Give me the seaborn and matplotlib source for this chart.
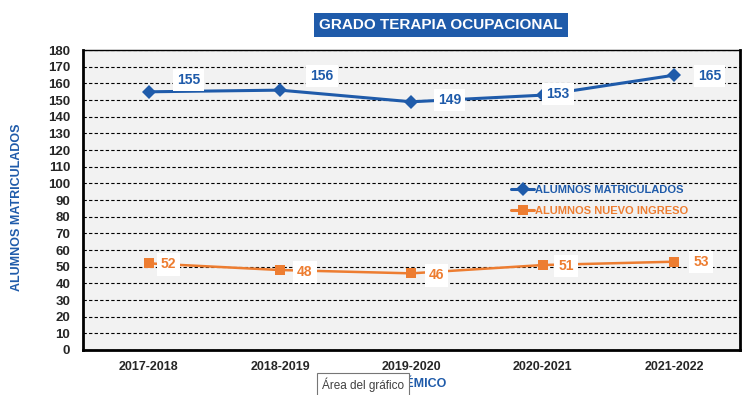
import numpy as np
import pandas as pd
import matplotlib
matplotlib.use('Agg')
import matplotlib.pyplot as plt
import seaborn as sns

# data
cursos = ['2017-2018', '2018-2019', '2019-2020', '2020-2021', '2021-2022']
matriculados = [155, 156, 149, 153, 165]
nuevo_ingreso = [52, 48, 46, 51, 53]

AZUL = '#1F5BAA'
NARANJA = '#ED7D31'

sns.set_style('white')
plt.rcParams['font.family'] = ['Liberation Sans', 'DejaVu Sans']

df = pd.DataFrame({'curso': cursos * 2,
                   'valor': matriculados + nuevo_ingreso,
                   'serie': ['ALUMNOS MATRICULADOS'] * 5 + ['ALUMNOS NUEVO INGRESO'] * 5})
df['x'] = list(range(5)) * 2

fig = plt.figure(figsize=(7.46, 3.95), dpi=100)
ax = fig.add_axes([0.111, 0.114, 0.881, 0.759])
ax.set_facecolor('#F2F2F2')

sns.lineplot(data=df, x='x', y='valor', hue='serie', style='serie',
             palette=[AZUL, NARANJA], markers=['D', 's'], dashes=False,
             linewidth=2.2, markersize=7, markeredgewidth=0, ax=ax)
ax.lines[1].set_linewidth(1.8)

ax.set_xlim(-0.5, 4.5)
ax.set_ylim(0, 180)
ax.set_yticks(np.arange(0, 181, 10))
ax.set_xticks(np.arange(-0.5, 4.6, 1))
ax.set_xticklabels([])
ax.set_xticks(range(5), minor=True)
ax.set_xticklabels(cursos, minor=True, fontsize=9, fontweight='bold')
ax.tick_params(axis='x', which='minor', length=0, pad=8)
ax.tick_params(axis='x', which='major', direction='out', length=5, width=1.5, color='black')
ax.tick_params(axis='y', direction='out', length=5, width=1.5, labelsize=9.5, pad=4)
for lab in ax.get_yticklabels():
    lab.set_fontweight('bold')

ax.grid(axis='y', color='black', linestyle=(0, (3, 2)), linewidth=0.8)
ax.set_axisbelow(True)
for s in ['left', 'bottom', 'right']:
    ax.spines[s].set_linewidth(2)
    ax.spines[s].set_color('black')
ax.spines['top'].set_linewidth(1)
ax.spines['top'].set_color('black')

ax.set_xlabel('')
ax.set_ylabel('')
fig.text(17 / 746, 0.476, 'ALUMNOS MATRICULADOS', rotation=90, ha='center', va='center',
         color=AZUL, fontsize=9, fontweight='bold')
fig.text(446 / 746, 0.028, 'CURSO ACADÉMICO', ha='right', va='center',
         color=AZUL, fontsize=9, fontweight='bold')

# data labels
off_azul = [(40, 12), (42, 14), (38, 2), (15, 1), (35, -1)]
for i, v in enumerate(matriculados):
    ax.annotate(str(v), (i, v), xytext=off_azul[i], textcoords='offset pixels',
                ha='center', va='center', color=AZUL, fontsize=10, fontweight='bold',
                bbox=dict(boxstyle='square,pad=0.3', fc='white', ec='none'))
off_nar = [(20, -1), (25, -2), (25, -2), (23, -1), (27, 0)]
for i, v in enumerate(nuevo_ingreso):
    ax.annotate(str(v), (i, v), xytext=off_nar[i], textcoords='offset pixels',
                ha='center', va='center', color=NARANJA, fontsize=10, fontweight='bold',
                bbox=dict(boxstyle='square,pad=0.3', fc='white', ec='none'))

leg = ax.legend(loc='upper left', bbox_to_anchor=(0.637, 0.583), frameon=False,
                handlelength=2.0, handletextpad=0.1, labelspacing=0.95, fontsize=8)
for t, c in zip(leg.get_texts(), [AZUL, NARANJA]):
    t.set_color(c)
    t.set_fontweight('bold')

fig.text(0.591, 0.937, 'GRADO TERAPIA OCUPACIONAL', ha='center', va='center',
         color='white', fontsize=11, fontweight='bold',
         bbox=dict(boxstyle='square,pad=0.35', fc=AZUL, ec='none'))

# tooltip visible in the screenshot
fig.text(322 / 746, 0.026, 'Área del gráfico', ha='left', va='center', color='#404040',
         fontsize=8.5, zorder=10,
         bbox=dict(boxstyle='square,pad=0.4', fc='white', ec='#767676', lw=0.8))

fig.savefig('out.png', dpi=100)
